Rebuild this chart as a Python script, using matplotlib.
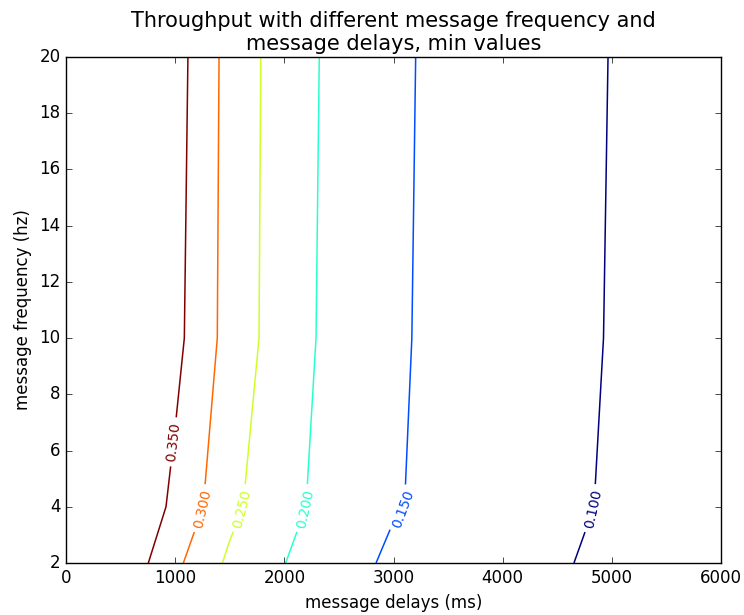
import matplotlib
matplotlib.use("Agg")
import matplotlib.pyplot as plt
import numpy as np

plt.style.use("classic")

# message delays (ms) and message frequencies (hz)
delays = [0, 500, 1000, 1500, 2000, 2500, 3000, 3500, 4000, 4500, 5000, 5500, 6000]
frequencies = [2, 4, 10, 20]

# minimum throughput, one row per frequency
throughput_f2 = [0.470, 0.3908, 0.3105, 0.2405, 0.2005, 0.1800, 0.1359, 0.1250, 0.1150, 0.1060, 0.0864, 0.0800, 0.0740]
throughput_f4 = [0.490, 0.4109, 0.3377, 0.2644, 0.2054, 0.1918, 0.1550, 0.1302, 0.1180, 0.1060, 0.0971, 0.0900, 0.0830]
throughput_f10 = [0.520, 0.4400, 0.3639, 0.2811, 0.2231, 0.1833, 0.1580, 0.1342, 0.1200, 0.1100, 0.0982, 0.0910, 0.0850]
throughput_f20 = [0.530, 0.4500, 0.3705, 0.2828, 0.2251, 0.1859, 0.1580, 0.1383, 0.1240, 0.1120, 0.0991, 0.0920, 0.0860]

levels = [0.10, 0.15, 0.20, 0.25, 0.30, 0.35]
label_positions = [(4824, 3.94), (3084, 3.94), (2189, 3.94), (1609, 3.94), (1243, 3.94), (983, 6.31)]

Z = np.array([throughput_f2, throughput_f4, throughput_f10, throughput_f20])
X, Y = np.meshgrid(delays, frequencies)

fig = plt.figure(figsize=(7.44, 6.15), dpi=100, facecolor="white")
ax = fig.add_axes([66 / 744, 1 - 563 / 615, (721 - 66) / 744, (563 - 57) / 615])

cs = ax.contour(X, Y, Z, levels=levels, cmap="jet", linewidths=1.1)
ax.clabel(cs, inline=True, fmt="%.3f", fontsize=10, manual=label_positions)

ax.set_xlim(0, 6000)
ax.set_ylim(2, 20)
ax.set_xlabel("message delays (ms)", fontsize=12)
ax.set_ylabel("message frequency (hz)", fontsize=12)
ax.tick_params(labelsize=12)
ax.set_title("Throughput with different message frequency and\nmessage delays, min values", fontsize=15)

fig.savefig("out.png", dpi=100, facecolor="white")
